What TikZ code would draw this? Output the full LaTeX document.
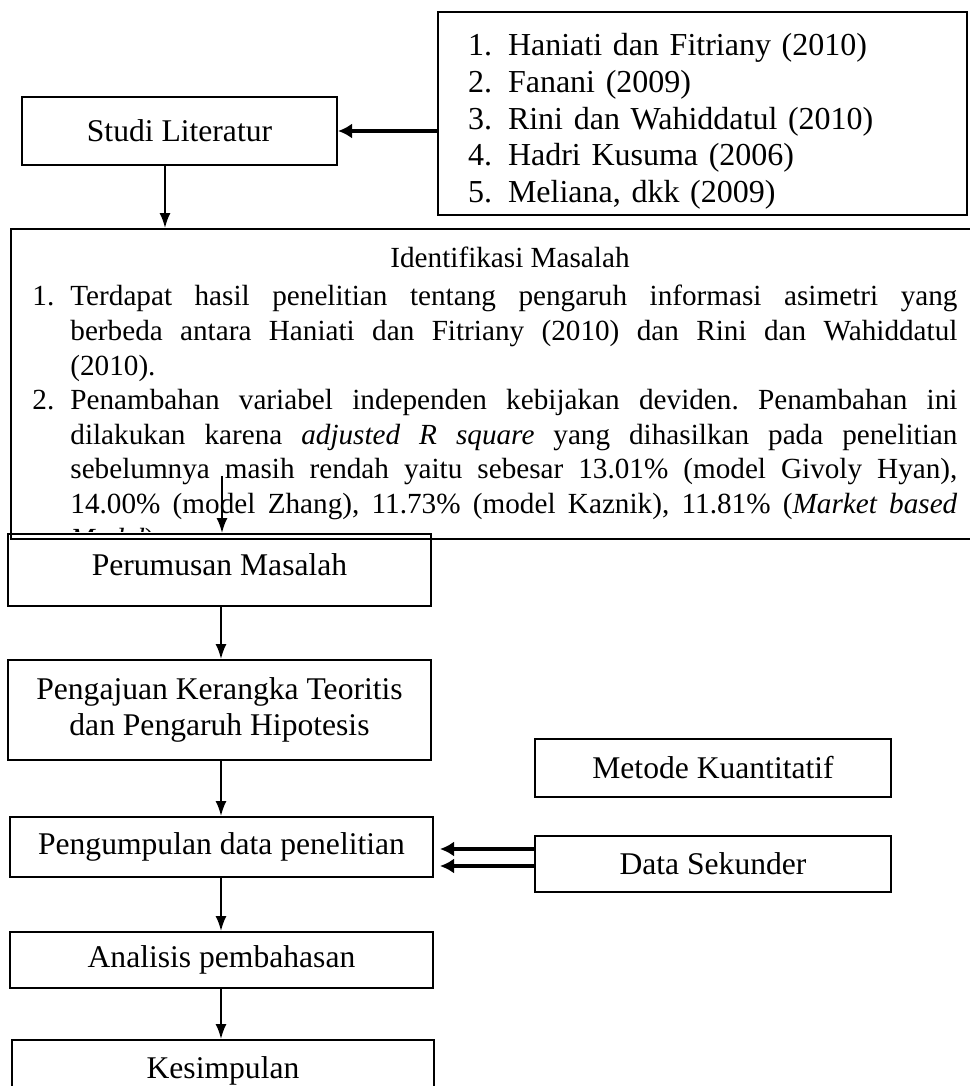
\documentclass[tikz,border=0pt]{standalone}
\usepackage{fontspec}
\setmainfont{Liberation Serif}
\usetikzlibrary{arrows.meta}

\begin{document}
\begin{tikzpicture}
			[x=0.5pt,y=-0.5pt,line cap=rect,
			%Styles
			box/.style={draw,line width=1pt,inner sep=0pt,align=center,font=\fontsize{15.8}{18.4}\selectfont},
			small text/.style={font=\fontsize{14.6}{17.3}\selectfont},
			flow/.style={-{Latex[length=7.5pt,width=5.5pt]},line width=0.9pt},
			feed/.style={-{Latex[length=7pt,width=7.5pt]},line width=1.7pt}
			]
			\useasboundingbox (0,0) rectangle (969,1086);
			
			%Helper points
			\coordinate (litdown) at (165,0);
			\coordinate (identdown) at (222,477);
			\coordinate (spine) at (221,0);
			\coordinate (feedA) at (440,849);
			\coordinate (feedB) at (440,866);
			
			%The boxes
			\node[box,minimum width=157.5pt,minimum height=34pt] (studi) at (179.5,131) {Studi Literatur};
			\node[box,align=left,text width=234.5pt,inner xsep=15pt,minimum height=101.5pt,font=\fontsize{16}{18.3}\selectfont] (list) at (702.5,113.5)
				{\rule{0pt}{19pt}\makebox[20pt][l]{1.}Haniati dan Fitriany (2010)\\
				 \makebox[20pt][l]{2.}Fanani (2009)\\
				 \makebox[20pt][l]{3.}Rini dan Wahiddatul (2010)\\
				 \makebox[20pt][l]{4.}Hadri Kusuma (2006)\\
				 \makebox[20pt][l]{5.}Meliana, dkk (2009)};
			\node[box,anchor=north west,minimum width=485pt,minimum height=155pt] (ident) at (10,228) {};
			\node[box,minimum width=211.5pt,minimum height=36pt] (perumusan) at (219.5,570) {Perumusan Masalah\rule[-5pt]{0pt}{5pt}};
			\node[box,minimum width=211.5pt,minimum height=50pt] (pengajuan) at (219.5,710) {Pengajuan Kerangka Teoritis\\dan Pengaruh Hipotesis};
			\node[box,minimum width=211.5pt,minimum height=30pt] (pengumpulan) at (221.5,847) {Pengumpulan data penelitian};
			\node[box,minimum width=211.5pt,minimum height=28pt] (analisis) at (221.5,960) {Analisis pembahasan};
			\node[box,minimum width=211pt,minimum height=31pt] (kesimpulan) at (223,1071) {Kesimpulan};
			\node[box,minimum width=178pt,minimum height=29pt] (metode) at (713,768) {Metode Kuantitatif};
			\node[box,minimum width=178pt,minimum height=28pt] (datasek) at (713,864) {Data Sekunder};
			
			%Text of the problem box, cut off at its bottom
			\begin{scope}
				\clip (ident.north west) rectangle (969,531);
				\node[small text] (identtitle) at (510,257) {Identifikasi Masalah};
				\node[small text,anchor=north west,inner sep=0pt,text width=462.5pt,align=justify] (identlist) at (32,285)
					{\frenchspacing\tolerance=9999\hyphenpenalty=10000
					 \hangindent=19pt\hangafter=1\noindent\makebox[19pt][l]{1.}Terdapat hasil penelitian tentang pengaruh informasi asimetri yang\linebreak
					 berbeda antara Haniati dan Fitriany (2010) dan Rini dan Wahiddatul\linebreak
					 (2010).\par
					 \hangindent=19pt\hangafter=1\noindent\makebox[19pt][l]{2.}Penambahan variabel independen kebijakan deviden. Penambahan ini\linebreak
					 dilakukan karena \textit{adjusted R square} yang dihasilkan pada penelitian\linebreak
					 sebelumnya masih rendah yaitu sebesar 13.01\% (model Givoly Hyan),\linebreak
					 14.00\% (model Zhang), 11.73\% (model Kaznik), 11.81\% (\textit{Market based}\linebreak
					 \textit{Model}).\par};
			\end{scope}
			
			%The arrows
			\draw[feed] (list.west |- studi.east) -- (studi.east);
			\draw[flow] (studi.south -| litdown) -- (ident.north -| litdown);
			\draw[flow] (identdown) -- (perumusan.north -| identdown);
			\draw[flow] (perumusan.south -| spine) -- (pengajuan.north -| spine);
			\draw[flow] (pengajuan.south -| spine) -- (pengumpulan.north -| spine);
			\draw[flow] (pengumpulan.south -| spine) -- (analisis.north -| spine);
			\draw[flow] (analisis.south -| spine) -- (kesimpulan.north -| spine);
			\draw[feed] (datasek.west |- feedA) -- (feedA);
			\draw[feed] (datasek.west |- feedB) -- (feedB);
		\end{tikzpicture}
\end{document}
